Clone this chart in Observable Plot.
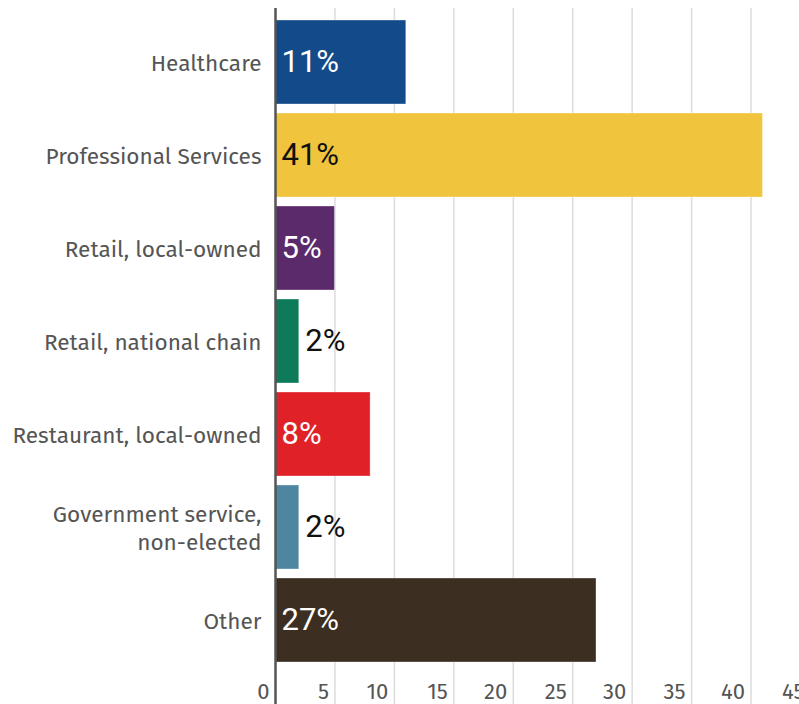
<!DOCTYPE html>
<html>
<head>
<meta charset="utf-8">
<script src="https://cdn.jsdelivr.net/npm/d3@7"></script>
<script src="https://cdn.jsdelivr.net/npm/@observablehq/plot@0.6"></script>
<style>
  html, body { margin: 0; padding: 0; background: #fff; overflow: hidden; }
  #chart svg { overflow: hidden; display: block; }
</style>
</head>
<body>
<div id="chart"></div>
<script>
const categories = [
  "Healthcare",
  "Professional Services",
  "Retail, local-owned",
  "Retail, national chain",
  "Restaurant, local-owned",
  "Government service,\nnon-elected",
  "Other"
];
const values = [11, 41, 5, 2, 8, 2, 27];
const colors = ["#134a8a", "#f0c43c", "#5b2a6b", "#0d7a5a", "#e02128", "#4e86a2", "#3c2e20"];
const labelColors = ["#fff", "#111", "#fff", "#111", "#fff", "#111", "#fff"];
const insideLabel = [true, true, true, false, true, false, true];
const xTicks = [0, 5, 10, 15, 20, 25, 30, 35, 40, 45];

const data = categories.map((c, i) => ({
  category: c, value: values[i], color: colors[i],
  labelColor: labelColors[i], inside: insideLabel[i]
}));

const catFont = "'Fira Sans', Lato, 'Open Sans', sans-serif";

const chart = Plot.plot({
  width: 799,
  height: 704,
  marginTop: 8,
  marginBottom: 0,
  marginLeft: 275,
  marginRight: 0,
  x: { domain: [0, 45], range: [275, 810], axis: null },
  y: { domain: categories, range: [8.5, 672.5], padding: 0.1, axis: null },
  marks: [
    Plot.ruleX(xTicks.filter(d => d > 0), { stroke: "#dcdcdc", strokeWidth: 1.5 }),
    Plot.barX(data, {
      x: "value", y: "category", fill: "color",
      stroke: "rgba(255,255,255,0.35)", strokeWidth: 1
    }),
    Plot.ruleX([0], { stroke: "#555", strokeWidth: 2.5 }),
    Plot.text(data, {
      x: d => d.inside ? 0 : d.value,
      y: "category",
      text: d => d.value + "%",
      fill: "labelColor",
      textAnchor: "start",
      dx: 6,
      fontSize: 31,
      fontFamily: "Roboto, sans-serif"
    }),
    Plot.text(data, {
      x: 0, y: "category", text: "category",
      textAnchor: "end", dx: -14,
      fontSize: 22.6, lineHeight: 1.24,
      fill: "#555",
      fontFamily: catFont
    }),
    Plot.text(xTicks, {
      x: d => d, text: d => String(d),
      frameAnchor: "bottom", dy: -6, dx: -6,
      textAnchor: "end",
      fontSize: 22, fill: "#555",
      fontFamily: catFont
    })
  ]
});
document.getElementById("chart").appendChild(chart);
</script>
</body>
</html>
